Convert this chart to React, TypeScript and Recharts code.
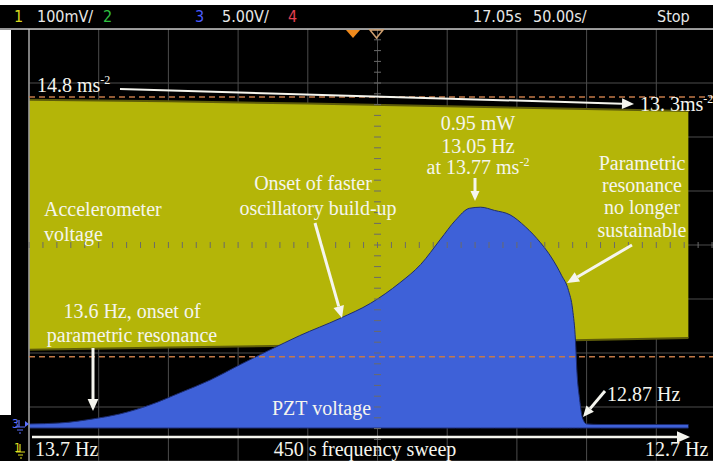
import { ComposedChart, Area, XAxis, YAxis, CartesianGrid, ReferenceLine } from 'recharts'

// sweep time in seconds (50 s/div), channel 3 = PZT voltage (V), channel 1 = accelerometer (mV)
const sweepTime = [0, 22, 46, 65, 87, 108, 130, 151, 173, 194, 223, 245, 266, 281, 295, 306, 316, 324, 334, 345, 356, 367, 375, 382, 387, 390, 392, 393, 395, 397, 400, 410, 438, 473]
const pztHigh = [0.13, 0.22, 0.6, 1.05, 1.9, 3.0, 4.2, 5.6, 7.0, 8.3, 9.9, 11.3, 13.2, 14.9, 17.2, 19.0, 20.1, 20.2, 19.9, 19.5, 18.4, 16.9, 15.5, 13.9, 12.5, 10.7, 7.9, 5.1, 2.4, 0.7, 0.13, 0.08, 0.08, 0.08]
const pztLow = [-0.25, -0.25, -0.25, -0.25, -0.25, -0.25, -0.25, -0.25, -0.25, -0.25, -0.25, -0.25, -0.25, -0.25, -0.25, -0.25, -0.25, -0.25, -0.25, -0.25, -0.25, -0.25, -0.25, -0.25, -0.25, -0.25, -0.25, -0.25, -0.25, -0.25, -0.25, -0.25, -0.25, -0.25]

const accelTime = [0, 100, 200, 300, 400, 473]
const accelHigh = [643, 640, 636, 631, 626, 622]
const accelLow = [180, 184, 188, 193, 198, 202]

// Y cursors on channel 1 (mV)
const cursorLevels = [648, 167]

const timeTicks = [0, 50, 100, 150, 200, 250, 300, 350, 400, 450, 500]
const ch1Ticks = [-26, 74, 174, 274, 374, 474, 574, 674, 774]

const pztData = sweepTime.map((t, i) => ({ t, low: pztLow[i], high: pztHigh[i] }))
const accelData = accelTime.map((t, i) => ({ t, low: accelLow[i], high: accelHigh[i] }))

const SERIF = "'Liberation Serif', 'Times New Roman', serif"
const SCOPE = "'Liberation Sans Narrow', 'DejaVu Sans Condensed', 'Roboto', sans-serif"
const INK = '#f5f5ee'

function Arrow({ x1, y1, x2, y2, w = 3, head = 12 }: { x1: number; y1: number; x2: number; y2: number; w?: number; head?: number }) {
  const a = Math.atan2(y2 - y1, x2 - x1)
  const bx = x2 - head * Math.cos(a)
  const by = y2 - head * Math.sin(a)
  const hw = head * 0.45
  const px = -Math.sin(a) * hw
  const py = Math.cos(a) * hw
  return (
    <g>
      <line x1={x1} y1={y1} x2={bx} y2={by} stroke={INK} strokeWidth={w} />
      <polygon points={`${x2},${y2} ${bx + px},${by + py} ${bx - px},${by - py}`} fill={INK} />
    </g>
  )
}

function Label({ x, y, children, anchor = 'middle' }: { x: number; y: number; children: any; anchor?: 'start' | 'middle' | 'end' }) {
  return (
    <text x={x} y={y} textAnchor={anchor} fill={INK} fontFamily={SERIF} fontSize={20}>
      {children}
    </text>
  )
}

const Sup = ({ v }: { v: string }) => (
  <tspan dy={-8} fontSize={12}>{v}</tspan>
)

function Overlay() {
  // minor ticks on the centre graticule lines
  const vTicks: number[] = []
  for (let y = 29; y <= 461; y += 10.8) vTicks.push(y)
  const hTicks: number[] = []
  for (let x = 29; x <= 713; x += 13.94) hTicks.push(x)
  return (
    <svg width={713} height={461} style={{ position: 'absolute', left: 0, top: 0 }}>
      {vTicks.map((y, i) => (
        <line key={'v' + i} x1={374} x2={381} y1={y} y2={y} stroke="#6a6a6a" strokeWidth={1} />
      ))}
      {hTicks.map((x, i) => (
        <line key={'h' + i} x1={x} x2={x} y1={242} y2={248} stroke="#6a6a6a" strokeWidth={1} />
      ))}

      {/* status bar */}
      <rect x={0} y={0} width={713} height={5} fill="#fff" />
      <rect x={0} y={5} width={713} height={24} fill="#000" />
      <line x1={0} x2={713} y1={29} y2={29} stroke="#c8c8c8" strokeWidth={1.5} />
      <g fontFamily={SCOPE} fontSize={16}>
        <text x={14} y={22} fill="#d8d820">1</text>
        <text x={37} y={22} fill="#e8e8e8">100mV/</text>
        <text x={103} y={22} fill="#30c040">2</text>
        <text x={195} y={22} fill="#4a5cff">3</text>
        <text x={222} y={22} fill="#e8e8e8">5.00V/</text>
        <text x={288} y={22} fill="#e04050">4</text>
        <text x={473} y={22} fill="#e8e8e8">17.05s</text>
        <text x={533} y={22} fill="#e8e8e8">50.00s/</text>
        <text x={657} y={22} fill="#e8e8e8">Stop</text>
      </g>
      <polygon points="346,30 360,30 353,38" fill="#f08a1c" />
      <polygon points="370,30 383,30 376.5,38" fill="none" stroke="#d0a070" strokeWidth={1.5} />

      {/* left margin and channel ground markers */}
      <rect x={0} y={30} width={11} height={385} fill="#fff" />
      <g fontFamily={SCOPE} fontSize={12}>
        <text x={12} y={428} fill="#5a70ff">3</text>
        <path d="M19 420 V427 M15 427 H25 M17 430 H23 M19 433 H21" stroke="#5a70ff" strokeWidth={1.2} />
        <polygon points="25,421 29,424 25,427" fill="#5a70ff" />
        <text x={14} y={452} fill="#e0e020">1</text>
        <path d="M20 444 V452 M16 452 H25 M18 455 H23 M20 458 H22" stroke="#e0e020" strokeWidth={1.2} />
      </g>

      {/* annotations */}
      <Label x={37} y={92} anchor="start">14.8 ms<Sup v="-2" /></Label>
      <Arrow x1={120} y1={89} x2={634} y2={104} w={2} head={12} />
      <Label x={640} y={111} anchor="start">13. 3ms<Sup v="-2" /></Label>

      <Label x={478} y={130}>0.95 mW</Label>
      <Label x={478} y={153}>13.05 Hz</Label>
      <Label x={478} y={174}>at 13.77 ms<Sup v="-2" /></Label>
      <Arrow x1={475} y1={178} x2={475} y2={201} w={3} head={10} />

      <Label x={313} y={190}>Onset of faster</Label>
      <Label x={318} y={215}>oscillatory build-up</Label>
      <Arrow x1={315} y1={223} x2={342} y2={318} w={3} head={12} />

      <Label x={44} y={216} anchor="start">Accelerometer</Label>
      <Label x={44} y={241} anchor="start">voltage</Label>

      <Label x={642} y={170}>Parametric</Label>
      <Label x={642} y={192}>resonance</Label>
      <Label x={642} y={214}>no longer</Label>
      <Label x={642} y={237}>sustainable</Label>
      <Arrow x1={632} y1={245} x2={567} y2={283} w={3} head={12} />

      <Label x={132} y={318}>13.6 Hz, onset of</Label>
      <Label x={132} y={342}>parametric resonance</Label>
      <Arrow x1={93} y1={348} x2={93} y2={411} w={3} head={12} />

      <Label x={272} y={415} anchor="start">PZT voltage</Label>
      <Label x={607} y={401} anchor="start">12.87 Hz</Label>
      <Arrow x1={605} y1={391} x2={583} y2={417} w={3} head={11} />

      <Arrow x1={32} y1={437} x2={690} y2={437} w={2.5} head={13} />
      <Label x={35} y={456} anchor="start">13.7 Hz</Label>
      <Label x={365} y={456}>450 s frequency sweep</Label>
      <Label x={645} y={456} anchor="start">12.7 Hz</Label>
    </svg>
  )
}

export default function App() {
  return (
    <div style={{ position: 'absolute', left: 0, top: 0, width: 713, height: 461, overflow: 'hidden', background: '#000' }}>
      <ComposedChart width={740} height={461} margin={{ top: 29, right: 14, bottom: 0, left: 29 }}>
        <XAxis dataKey="t" type="number" domain={[0, 500]} ticks={timeTicks} hide allowDataOverflow />
        <YAxis yAxisId="ch1" type="number" domain={[-26, 774]} ticks={ch1Ticks} hide allowDataOverflow />
        <YAxis yAxisId="ch3" type="number" domain={[-3.3, 36.7]} hide allowDataOverflow />
        <CartesianGrid yAxisId="ch1" stroke="#4c4c4c" strokeWidth={1} />
        <ReferenceLine yAxisId="ch1" x={0} stroke="#9c9c9c" strokeWidth={1.5} />
        <Area
          yAxisId="ch1"
          data={accelData}
          dataKey={(d: any) => [d.low, d.high]}
          type="linear"
          stroke="#5e5c0a"
          strokeWidth={2}
          fill="#b4b508"
          fillOpacity={1}
          isAnimationActive={false}
        />
        {cursorLevels.map((v) => (
          <ReferenceLine key={v} yAxisId="ch1" y={v} stroke="#c47a48" strokeDasharray="6 4" strokeWidth={1.5} />
        ))}
        <Area
          yAxisId="ch3"
          data={pztData}
          dataKey={(d: any) => [d.low, d.high]}
          type="monotone"
          stroke="#1d2c70"
          strokeWidth={1}
          fill="#3e61d8"
          fillOpacity={1}
          isAnimationActive={false}
        />
      </ComposedChart>
      <Overlay />
    </div>
  )
}
